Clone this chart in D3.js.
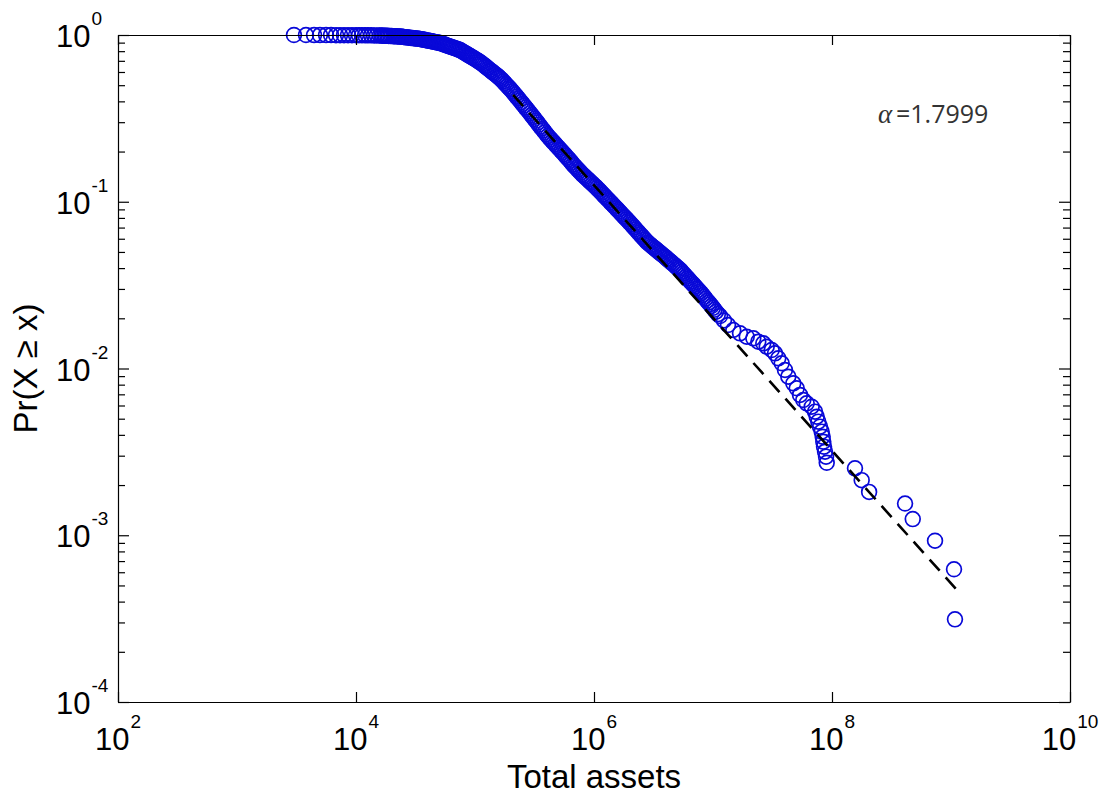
<!DOCTYPE html>
<html><head><meta charset="utf-8">
<script src="https://cdn.jsdelivr.net/npm/d3@7"></script>
<style>body{margin:0;background:#fff;} svg{display:block;}</style>
</head><body><svg id="c" width="1111" height="798"></svg>
<script>
// ---- data (points of the Pr(X >= x) curve) ----
const assets = [
 3.01e3,3.80e3,4.44e3,4.98e3,5.60e3,6.17e3,6.79e3,7.34e3,7.93e3,8.57e3,9.25e3,1.00e4,1.06e4,1.12e4,1.19e4,1.26e4,1.34e4,1.42e4,1.50e4,
 1.585e4,1.631e4,1.679e4,1.728e4,1.778e4,1.830e4,1.884e4,1.939e4,1.995e4,2.054e4,2.113e4,2.175e4,2.239e4,2.304e4,2.371e4,2.441e4,
 2.512e4,2.585e4,2.661e4,2.738e4,2.818e4,2.900e4,2.985e4,3.072e4,3.162e4,3.255e4,3.350e4,3.448e4,3.548e4,3.652e4,3.758e4,3.868e4,
 3.981e4,4.097e4,4.217e4,4.340e4,4.467e4,4.597e4,4.732e4,4.870e4,5.012e4,5.158e4,5.309e4,5.464e4,5.623e4,5.788e4,5.957e4,6.131e4,
 6.310e4,6.494e4,6.683e4,6.879e4,7.079e4,7.286e4,7.499e4,7.718e4,7.943e4,8.175e4,8.414e4,8.660e4,8.913e4,9.173e4,9.441e4,9.717e4,
 1.000e5,1.029e5,1.059e5,1.090e5,1.122e5,1.155e5,1.189e5,1.224e5,1.259e5,1.296e5,1.334e5,1.372e5,1.413e5,1.454e5,1.496e5,1.540e5,
 1.585e5,1.631e5,1.679e5,1.728e5,1.778e5,1.830e5,1.884e5,1.939e5,1.995e5,2.054e5,2.113e5,2.175e5,2.239e5,2.304e5,2.371e5,2.441e5,
 2.512e5,2.585e5,2.661e5,2.738e5,2.818e5,2.900e5,2.985e5,3.072e5,3.162e5,3.255e5,3.350e5,3.448e5,3.548e5,3.652e5,3.758e5,3.868e5,
 3.981e5,4.097e5,4.217e5,4.340e5,4.467e5,4.597e5,4.732e5,4.870e5,5.012e5,5.158e5,5.309e5,5.464e5,5.623e5,5.788e5,5.957e5,6.131e5,
 6.310e5,6.494e5,6.683e5,6.879e5,7.079e5,7.286e5,7.499e5,7.718e5,7.943e5,8.175e5,8.414e5,8.660e5,8.913e5,9.173e5,9.441e5,9.717e5,
 1.000e6,1.029e6,1.059e6,1.090e6,1.122e6,1.155e6,1.189e6,1.224e6,1.259e6,1.296e6,1.334e6,1.372e6,1.413e6,1.454e6,1.496e6,1.540e6,
 1.585e6,1.631e6,1.679e6,1.728e6,1.778e6,1.830e6,1.884e6,1.939e6,1.995e6,2.054e6,2.113e6,2.175e6,2.239e6,2.304e6,2.371e6,2.441e6,
 2.512e6,2.585e6,2.661e6,2.738e6,2.818e6,2.900e6,2.985e6,3.072e6,3.162e6,3.255e6,3.350e6,3.448e6,3.548e6,3.652e6,3.758e6,3.868e6,
 3.981e6,4.097e6,4.217e6,4.340e6,4.467e6,4.597e6,4.732e6,4.870e6,5.012e6,5.158e6,5.309e6,5.464e6,5.623e6,5.788e6,5.957e6,6.131e6,
 6.310e6,6.494e6,6.683e6,6.879e6,7.079e6,7.286e6,7.499e6,7.718e6,7.943e6,8.175e6,8.414e6,8.660e6,8.913e6,9.173e6,9.441e6,9.717e6,
 1.000e7,1.029e7,1.059e7,1.100e7,1.145e7,1.237e7,1.337e7,1.481e7,1.686e7,1.920e7,2.182e7,2.403e7,2.646e7,2.827e7,3.113e7,3.319e7,3.538e7,3.778e7,
 4.027e7,4.294e7,4.730e7,5.052e7,5.385e7,5.74e7,6.13e7,6.75e7,7.20e7,7.44e7,7.67e7,7.93e7,8.19e7,8.35e7,8.45e7,8.57e7,8.74e7,8.91e7,9.03e7,
 1.56e8,1.776e8,2.05e8,4.11e8,4.77e8,7.34e8,1.060e9,1.080e9
];
const prob = [
 1.000,0.9997,0.9994,0.9991,0.9988,0.9985,0.9982,0.9979,0.9976,0.9973,0.997,0.9967,0.9964,0.9961,0.9958,0.9955,0.995,0.9945,0.994,
 0.993,0.992,0.991,0.990,0.989,0.988,0.987,0.986,0.985,0.984,0.983,0.982,0.981,0.9795,0.978,0.9755,
 0.973,0.9705,0.968,0.966,0.964,0.961,0.958,0.956,0.954,0.9515,0.949,0.946,0.943,0.939,0.935,0.931,
 0.927,0.9235,0.920,0.916,0.912,0.9085,0.905,0.901,0.897,0.8915,0.886,0.8795,0.873,0.8665,0.860,0.854,
 0.848,0.842,0.836,0.830,0.824,0.818,0.812,0.802,0.792,0.7825,0.773,0.7635,0.754,0.745,0.736,0.727,
 0.718,0.709,0.700,0.6905,0.681,0.670,0.659,0.6485,0.638,0.6275,0.617,0.607,0.597,0.5875,0.578,0.5685,
 0.559,0.5485,0.538,0.526,0.514,0.503,0.492,0.4815,0.471,0.460,0.449,0.438,0.427,0.4165,0.406,0.396,
 0.386,0.3765,0.367,0.358,0.349,0.340,0.331,0.3225,0.314,0.306,0.298,0.290,0.282,0.275,0.268,0.261,
 0.254,0.248,0.242,0.2365,0.231,0.226,0.221,0.216,0.211,0.2065,0.202,0.1975,0.193,0.1885,0.184,0.180,
 0.176,0.1715,0.167,0.1635,0.160,0.1565,0.153,0.1497,0.1465,0.1437,0.141,0.1383,0.1356,0.1330,0.1305,0.1280,
 0.1256,0.1232,0.1208,0.1182,0.1157,0.1132,0.1108,0.1084,0.1061,0.1039,0.1017,0.0995,0.0974,0.0953,0.0933,0.0913,
 0.0893,0.0874,0.0855,0.0836,0.0818,0.0801,0.0784,0.0767,0.0750,0.0733,0.0716,0.0700,0.0684,0.0668,0.0653,0.0638,
 0.0624,0.0610,0.0596,0.0583,0.0570,0.0560,0.0551,0.0541,0.0532,0.0523,0.0515,0.0506,0.0497,0.0489,0.0481,0.0473,
 0.0465,0.0456,0.0448,0.0440,0.0433,0.0425,0.0418,0.0410,0.0403,0.0396,0.0389,0.0380,0.0371,0.0363,0.0355,0.0347,
 0.0339,0.0331,0.0324,0.0317,0.0310,0.0303,0.0296,0.0289,0.0283,0.0276,0.0269,0.0262,0.0255,0.0249,0.0243,0.0237,
 0.0231,0.0225,0.0219,0.0212,0.02064,0.01941,0.01823,0.01702,0.01626,0.01551,0.01517,0.01448,0.01416,0.01351,0.01291,0.01233,0.01151,0.01075,
 0.00980,0.00893,0.00815,0.00761,0.00694,0.00647,0.00618,0.00590,0.00551,0.00514,0.00480,0.00448,0.00418,0.00390,0.00364,0.00340,0.00317,0.00296,0.00272,
 0.00252,0.00214,0.00182,0.00155,0.00125,0.000927,0.000625,0.000313
];
// power-law fit line (dashed), end points
const fitAssets = [2.09e5, 1.12e9];
const fitProb = [0.437, 4.70e-4];
const alphaText = "=1.7999";
// tick labels (exponents of 10)
const xTickExps = [2, 4, 6, 8, 10];
const yTickExps = [0, -1, -2, -3, -4];
const yMinorMult = [2, 3, 4, 5, 6, 7, 8, 9];
const xTitle = "Total assets";
const yTitle = "Pr(X \u2265 x)";

// ---- drawing ----
const W = 1111, H = 798;
const P = {l: 118, r: 1070, t: 35, b: 702};
const svg = d3.select('#c');
svg.append('rect').attr('width', W).attr('height', H).attr('fill', '#fff');

const x = d3.scaleLog().domain([1e2, 1e10]).range([P.l, P.r]);
const y = d3.scaleLog().domain([1e-4, 1]).range([P.b, P.t]);

const pts = assets.map((a, i) => ({a, p: prob[i]}));
svg.append('g').selectAll('circle').data(pts).join('circle')
  .attr('cx', d => x(d.a)).attr('cy', d => y(d.p)).attr('r', 7.4)
  .attr('fill', 'none').attr('stroke', '#0808d8').attr('stroke-width', 1.7);

const fit = fitAssets.map((a, i) => [a, fitProb[i]]);
svg.append('path').datum(fit)
  .attr('d', d3.line().x(d => x(d[0])).y(d => y(d[1])))
  .attr('fill', 'none').attr('stroke', '#000').attr('stroke-width', 2.6)
  .attr('stroke-dasharray', '15,9');

// axes
const xMajor = xTickExps.map(e => Math.pow(10, e));
const yMajor = yTickExps.map(e => Math.pow(10, e));
const yAll = yMajor.concat(yTickExps.slice(1).flatMap(e => yMinorMult.map(m => m * Math.pow(10, e))));
const isMajor = v => yMajor.some(m => Math.abs(v / m - 1) < 1e-9);

function styleAxis(g) {
  g.select('.domain').attr('stroke', '#000').attr('stroke-width', 1.2);
  g.selectAll('.tick line').attr('stroke', '#000').attr('stroke-width', 1.2);
  g.selectAll('.tick text').remove();
}
svg.append('g').attr('transform', `translate(0,${P.b})`)
  .call(d3.axisBottom(x).tickValues(xMajor).tickSizeInner(-10).tickSizeOuter(0).tickFormat(''))
  .call(styleAxis);
svg.append('g').attr('transform', `translate(0,${P.t})`)
  .call(d3.axisTop(x).tickValues(xMajor).tickSizeInner(-10).tickSizeOuter(0).tickFormat(''))
  .call(styleAxis);
svg.append('g').attr('transform', `translate(${P.l},0)`)
  .call(d3.axisLeft(y).tickValues(yAll).tickSizeInner(-11).tickSizeOuter(0).tickFormat(''))
  .call(styleAxis)
  .selectAll('.tick line').attr('x2', d => isMajor(d) ? 11 : 7);
svg.append('g').attr('transform', `translate(${P.r},0)`)
  .call(d3.axisRight(y).tickValues(yAll).tickSizeInner(-11).tickSizeOuter(0).tickFormat(''))
  .call(styleAxis)
  .selectAll('.tick line').attr('x2', d => isMajor(d) ? -11 : -7);

const FONT = "'Liberation Sans', Arial, sans-serif";
// x tick labels
xTickExps.forEach(e => {
  const t = svg.append('text').attr('x', x(Math.pow(10, e))).attr('y', 750)
    .attr('text-anchor', 'middle').attr('font-family', FONT).attr('fill', '#000');
  t.append('tspan').attr('font-size', 31).text('10');
  t.append('tspan').attr('font-size', 19).attr('dy', -22).attr('dx', 1).text(String(e));
});
// y tick labels
yTickExps.forEach(e => {
  const yy = y(Math.pow(10, e));
  const t = svg.append('text').attr('x', 56).attr('y', yy + 12)
    .attr('font-family', FONT).attr('fill', '#000');
  t.append('tspan').attr('font-size', 31).text('10');
  t.append('tspan').attr('font-size', 19).attr('dy', -22).attr('dx', 1).text(String(e));
});
// titles
svg.append('text').attr('x', (P.l + P.r) / 2).attr('y', 788).attr('text-anchor', 'middle')
  .attr('font-family', FONT).attr('font-size', 33).text(xTitle);
svg.append('text').attr('transform', `translate(37,${(P.t + P.b) / 2}) rotate(-90)`)
  .attr('text-anchor', 'middle').attr('font-family', FONT).attr('font-size', 33).text(yTitle);
// alpha annotation
svg.append('text').attr('x', 878).attr('y', 123).attr('font-family', "'Liberation Serif', serif")
  .attr('font-style', 'italic').attr('font-size', 27).attr('fill', '#333').text('\u03b1');
svg.append('text').attr('x', 896).attr('y', 123).attr('font-family', "'Open Sans', sans-serif")
  .attr('font-size', 25).attr('fill', '#333').text(alphaText);
</script></body></html>
